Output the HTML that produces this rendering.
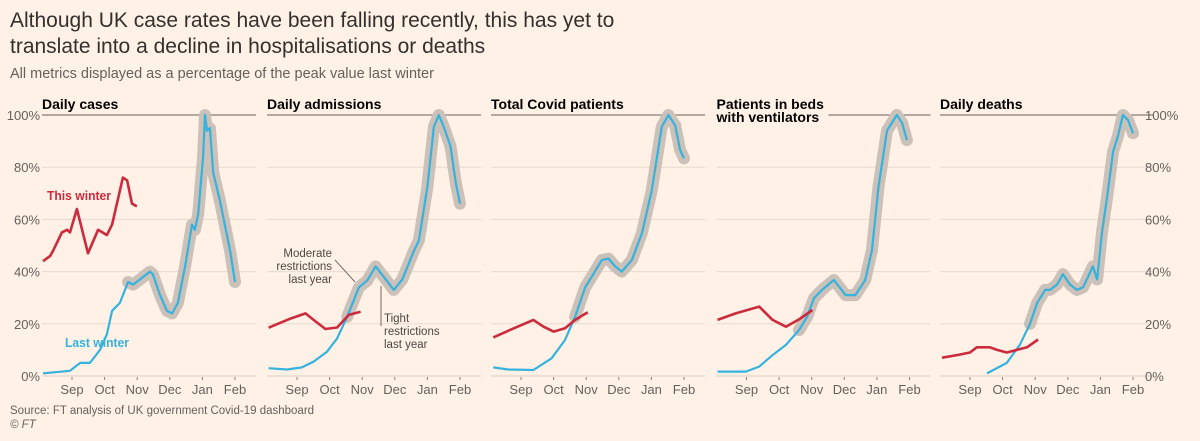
<!DOCTYPE html>
<html><head><meta charset="utf-8"><style>
html,body{margin:0;padding:0;background:#fff1e5;}
svg{display:block;font-family:"Liberation Sans",sans-serif;}
</style></head><body>
<svg id="chart" width="1200" height="441" viewBox="0 0 1200 441">
<rect width="1200" height="441" fill="#fff1e5"/>
<text x="10" y="27" font-size="21" fill="#33302e">Although UK case rates have been falling recently, this has yet to</text>
<text x="10" y="53" font-size="21" fill="#33302e">translate into a decline in hospitalisations or deaths</text>
<text x="10" y="78" font-size="14.5" fill="#66605c">All metrics displayed as a percentage of the peak value last winter</text>
<text x="10" y="414" font-size="11.5" fill="#66605c">Source: FT analysis of UK government Covid-19 dashboard</text>
<text x="10" y="428" font-size="11.5" fill="#66605c" font-style="italic">© FT</text>
<g id="panels"></g>
</svg>
<script>
// ---- data (month index: Aug=0, Sep=1 ... Feb=6; values in % of last winter's peak) ----
const panelTitles = ["Daily cases", "Daily admissions", "Total Covid patients", "Patients in beds|with ventilators", "Daily deaths"];
const monthLabels = ["Sep", "Oct", "Nov", "Dec", "Jan", "Feb"];
const yTicks = [0, 20, 40, 60, 80, 100];

const casesLastM = [0.11,0.94,1.25,1.55,1.86,2.07,2.23,2.47,2.72,2.87,3.09,3.39,3.48,3.70,3.91,4.07,4.25,4.47,4.68,4.77,4.87,5.02,5.08,5.14,5.23,5.33,5.54,5.85,6.0];
const casesLastV = [1,2,5,5,10,16,25,28,36,35,37,40,39,31,25,24,28,42,58,56,62,84,100,94,95,78,67,48,36];
const casesThisM = [0.11,0.33,0.42,0.69,0.85,0.94,1.15,1.49,1.80,2.07,2.23,2.56,2.69,2.84,2.99];
const casesThisV = [44,46,48,55,56,55,64,47,56,54,58,76,75,66,65];

const admLastM = [0.13,0.69,1.15,1.51,1.92,2.23,2.54,2.90,3.15,3.41,3.66,3.97,4.23,4.59,4.74,5.0,5.2,5.35,5.5,5.71,5.87,6.0];
const admLastV = [3,2.5,3.3,5.5,9.3,14.4,22.7,34,36.5,42,38,33,37,48,52,72.5,95.5,100,95.5,88,74,66];
const admThisM = [0.13,0.8,1.26,1.51,1.87,2.23,2.59,2.95];
const admThisV = [18.5,22,24,21.5,18,18.6,23.4,24.6];

const patLastM = [0.15,0.61,1.38,1.94,2.35,2.66,2.97,3.17,3.48,3.68,3.89,4.09,4.40,4.71,5.01,5.32,5.52,5.73,5.88,6.0];
const patLastV = [3.3,2.5,2.3,6.8,13.8,22.7,34,38,44.4,45,42,40,44.4,54.7,71,95.5,100,96,86.6,83.4];
const patThisM = [0.15,0.71,1.38,1.69,2.0,2.35,2.66,3.05];
const patThisV = [14.8,17.9,21.5,18.9,17,18.3,21.5,24.4];

const ventLastM = [0.11,0.98,1.39,1.80,2.21,2.61,2.86,3.07,3.32,3.68,4.04,4.34,4.64,4.85,5.05,5.31,5.61,5.77,5.92];
const ventLastV = [1.7,1.7,3.6,8,11.9,17.6,22.7,29.8,33,36.8,31,31,36.8,48.3,72.5,94,100,97,90.4];
const ventThisM = [0.11,0.67,1.39,1.80,2.21,2.61,3.02];
const ventThisV = [21.5,24,26.6,21.5,18.9,21.7,25.3];

const deathLastM = [1.52,2.13,2.53,2.84,3.06,3.30,3.45,3.67,3.85,4.07,4.28,4.47,4.77,4.90,5.05,5.20,5.39,5.54,5.69,5.85,6.0];
const deathLastV = [1,5,12,20,28,33,33,35,39,35,33,34,42,37,55,68,86,92,100,98,93];
const deathThisM = [0.14,0.6,1.0,1.21,1.61,1.83,2.13,2.44,2.75,3.09];
const deathThisV = [7,8,9,11,11,10,9,10,11,14];

const lastM = [casesLastM, admLastM, patLastM, ventLastM, deathLastM];
const lastV = [casesLastV, admLastV, patLastV, ventLastV, deathLastV];
const thisM = [casesThisM, admThisM, patThisM, ventThisM, deathThisM];
const thisV = [casesThisV, admThisV, patThisV, ventThisV, deathThisV];
const haloStart = [2.7, 2.5, 2.55, 2.6, 2.6];

// ---- layout ----
const sepX = [72, 297, 521, 746.5, 970];
const monthW = 32.6;
const y0 = 376, y100 = 115;
const NS = "http://www.w3.org/2000/svg";
const root = document.getElementById("panels");
function yScale(v){ return y0 - (v/100)*(y0-y100); }
function xScale(p, m){ return sepX[p] + (m-1)*monthW; }
function mk(tag, attrs, parent){ const e=document.createElementNS(NS,tag); for(const k in attrs) e.setAttribute(k,attrs[k]); (parent||root).appendChild(e); return e; }
function pathD(p, ms, vs, minM){ let d=""; ms.forEach((m,i)=>{ if(minM!==undefined && m<minM) return; d+=(d?"L":"M")+xScale(p,m).toFixed(1)+","+yScale(vs[i]).toFixed(1); }); return d; }

for(let p=0;p<5;p++){
  const g = mk("g",{});
  
  
  const left = sepX[p]-30, right = sepX[p]+184;
  yTicks.forEach(t=>{
    if(t===100) return;
    const l = mk("line",{x1:left,x2:right,y1:yScale(t),y2:yScale(t),stroke:t===0?"#d8cdc2":"#e6d9ce","stroke-width":1},g);
    
    
  });
  const top = mk("line",{x1:left,x2:right,y1:y100,y2:y100,stroke:"#66605c","stroke-width":1},g);
  
  
  monthLabels.forEach((lab,i)=>{
    const x = xScale(p,i+1);
    const tk = mk("line",{x1:x,x2:x,y1:y0+1,y2:y0+4,stroke:"#8a817a","stroke-width":1},g);
    
    
    const tx = mk("text",{x:x,y:y0+18,"font-size":13,fill:"#66605c","text-anchor":"middle"},g);
    tx.textContent = lab;
    
    
  });
  const lines = panelTitles[p].split("|");
  if(lines.length>1){ mk("rect",{x:left,y:100,width:112,height:26,fill:"#fff1e5"},g); }
  lines.forEach((s,i)=>{
    const t = mk("text",{x:left,y:109+i*13,"font-size":14,"font-weight":"bold",fill:"#000"},g);
    t.textContent = s;
    
    
  });
  const halo = mk("path",{d:pathD(p,lastM[p],lastV[p],haloStart[p]),fill:"none",stroke:"#cbc1b8","stroke-width":12,"stroke-linejoin":"round","stroke-linecap":"round"},g);
  
  
  const bl = mk("path",{d:pathD(p,lastM[p],lastV[p]),fill:"none",stroke:"#35b2de","stroke-width":2.2,"stroke-linejoin":"round"},g);
  
  
  const rl = mk("path",{d:pathD(p,thisM[p],thisV[p]),fill:"none",stroke:"#cc2b3e","stroke-width":2.6,"stroke-linejoin":"round"},g);
  
  
}
// y-axis labels
yTicks.forEach(t=>{
  const a = mk("text",{x:40,y:yScale(t)+5,"font-size":13,fill:"#66605c","text-anchor":"end"});
  a.textContent = t+"%";
  
  
  const b = mk("text",{x:1145,y:yScale(t)+5,"font-size":13,fill:"#66605c"});
  b.textContent = t+"%";
  
  
});
// series labels
const lt = mk("text",{x:47,y:200,"font-size":13,"font-weight":"bold",fill:"#cc2b3e",textLength:64,lengthAdjust:"spacingAndGlyphs"});
lt.textContent="This winter";


const ll = mk("text",{x:65,y:347,"font-size":13,"font-weight":"bold",fill:"#35b2de",textLength:64,lengthAdjust:"spacingAndGlyphs"});
ll.textContent="Last winter";


// annotations
[["Moderate",257],["restrictions",270],["last year",283]].forEach(a=>{
  const t=mk("text",{x:332,y:a[1],"font-size":11.5,fill:"#4d4845","text-anchor":"end"});
  t.textContent=a[0];
  
  
});
[["Tight",322],["restrictions",335],["last year",348]].forEach(a=>{
  const t=mk("text",{x:384,y:a[1],"font-size":11.5,fill:"#4d4845"});
  t.textContent=a[0];
  
  
});
const c1=mk("line",{x1:335,y1:260,x2:355,y2:282,stroke:"#4d4845","stroke-width":0.8});


const c2=mk("line",{x1:381,y1:286,x2:381,y2:326,stroke:"#4d4845","stroke-width":0.8});


</script>
</body></html>
